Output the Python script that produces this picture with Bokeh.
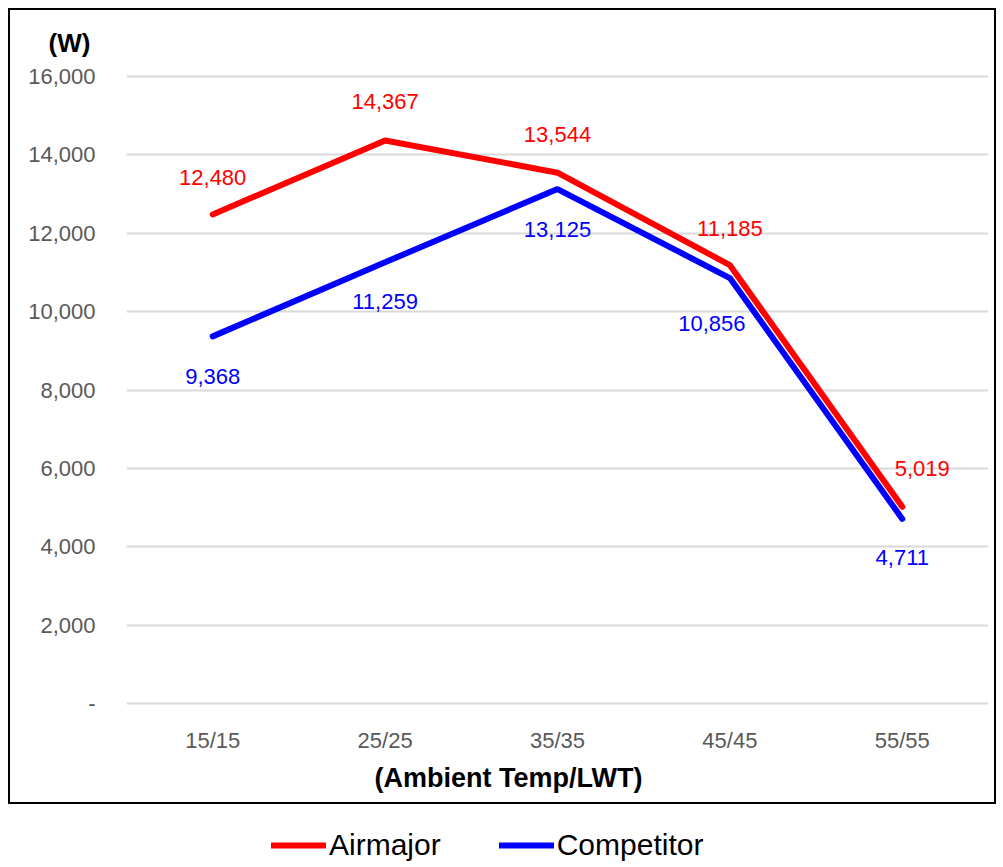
from bokeh.plotting import figure
from bokeh.layouts import column
from bokeh.models import (FactorRange, Range1d, NumeralTickFormatter, Legend,
                          LegendItem, FixedTicker, Title)
from bokeh.core.properties import value
from bokeh.embed import file_html
from bokeh.resources import INLINE

# ---- data ----
categories = ["15/15", "25/25", "35/35", "45/45", "55/55"]
airmajor = [12480, 14367, 13544, 11185, 5019]
competitor = [9368, 11259, 13125, 10856, 4711]
y_ticks = [0, 2000, 4000, 6000, 8000, 10000, 12000, 14000, 16000]
series_names = ["Airmajor", "Competitor"]

# ---- label placement (styling only) ----
air_dx = [0, 0, 0, 0, 20]
air_dy = [-37, -39, -38, -37, -38]
comp_dx = [0, 0, 0, -18, 0]
comp_dy = [40, 39, 40, 45, 39]

FONT = "Liberation Sans"
RED = "#FF0000"
BLUE = "#0000FF"
GRAY = "#595959"

p = figure(width=988, height=796,
           x_range=FactorRange(*categories),
           y_range=Range1d(-100, 16100),
           output_backend="svg", toolbar_location=None,
           min_border_left=116, min_border_right=10,
           min_border_top=62, min_border_bottom=99)
p.styles = {"border": "2px solid black"}

r_air = p.line(categories, airmajor, line_color=RED, line_width=6,
               line_cap="round")
r_comp = p.line(categories, competitor, line_color=BLUE, line_width=6,
                line_cap="round")

p.text(x=categories, y=airmajor, text=[f"{v:,}" for v in airmajor],
       x_offset=air_dx, y_offset=air_dy, text_align="center",
       text_baseline="middle", text_font=value(FONT),
       text_font_size="22px", text_color=RED)
p.text(x=categories, y=competitor, text=[f"{v:,}" for v in competitor],
       x_offset=comp_dx, y_offset=comp_dy, text_align="center",
       text_baseline="middle", text_font=value(FONT),
       text_font_size="22px", text_color=BLUE)

# unit title "(W)" at the top-left
p.title.text = "(W)"
p.title.text_font = FONT
p.title.text_font_size = "26px"
p.title.text_font_style = "bold"
p.title.text_color = "black"
p.title.align = "left"
p.title.offset = -78
p.title.standoff = 30

# axes
p.yaxis.ticker = FixedTicker(ticks=y_ticks)
p.yaxis.formatter = NumeralTickFormatter(format="0,0")
p.yaxis.major_label_overrides = {0: "-"}
p.yaxis.axis_line_color = None
p.yaxis.major_tick_line_color = None
p.yaxis.minor_tick_line_color = None
p.yaxis.major_label_text_font = FONT
p.yaxis.major_label_text_font_size = "22px"
p.yaxis.major_label_text_color = GRAY
p.yaxis.major_label_standoff = 25

p.xaxis.axis_line_color = None
p.xaxis.major_tick_line_color = None
p.xaxis.minor_tick_line_color = None
p.xaxis.major_label_text_font = FONT
p.xaxis.major_label_text_font_size = "22px"
p.xaxis.major_label_text_color = GRAY
p.xaxis.major_label_standoff = 14

x_title = Title(text="(Ambient Temp/LWT)", align="left", offset=248,
                text_font=FONT, text_font_size="27px",
                text_font_style="bold", text_color="black", standoff=11)
p.add_layout(x_title, "below")

p.xgrid.grid_line_color = None
p.ygrid.grid_line_color = "#D9D9D9"
p.ygrid.grid_line_width = 2
p.outline_line_color = None

# ---- legend strip below the bordered chart ----
lg = figure(width=992, height=58, x_range=FactorRange(*categories),
            y_range=Range1d(100000, 200000),
            output_backend="svg", toolbar_location=None,
            x_axis_location=None, y_axis_location=None,
            min_border=0)
lg.grid.grid_line_color = None
lg.outline_line_color = None
l_air = lg.line(categories, airmajor, line_color=RED, line_width=6,
                line_cap="round")
l_comp = lg.line(categories, competitor, line_color=BLUE, line_width=6,
                 line_cap="round")
legend = Legend(items=[LegendItem(label=series_names[0], renderers=[l_air]),
                       LegendItem(label=series_names[1], renderers=[l_comp])],
                orientation="horizontal", location=(147, 0),
                label_text_font=FONT, label_text_font_size="30px",
                label_text_color="black",
                glyph_width=55, glyph_height=30, label_standoff=3,
                spacing=58, border_line_color=None,
                background_fill_alpha=0, padding=0, margin=0)
lg.add_layout(legend, "center")

layout = column(p, lg, spacing=0, margin=(8, 0, 0, 8))
open("out.html", "w").write(file_html(layout, INLINE))
